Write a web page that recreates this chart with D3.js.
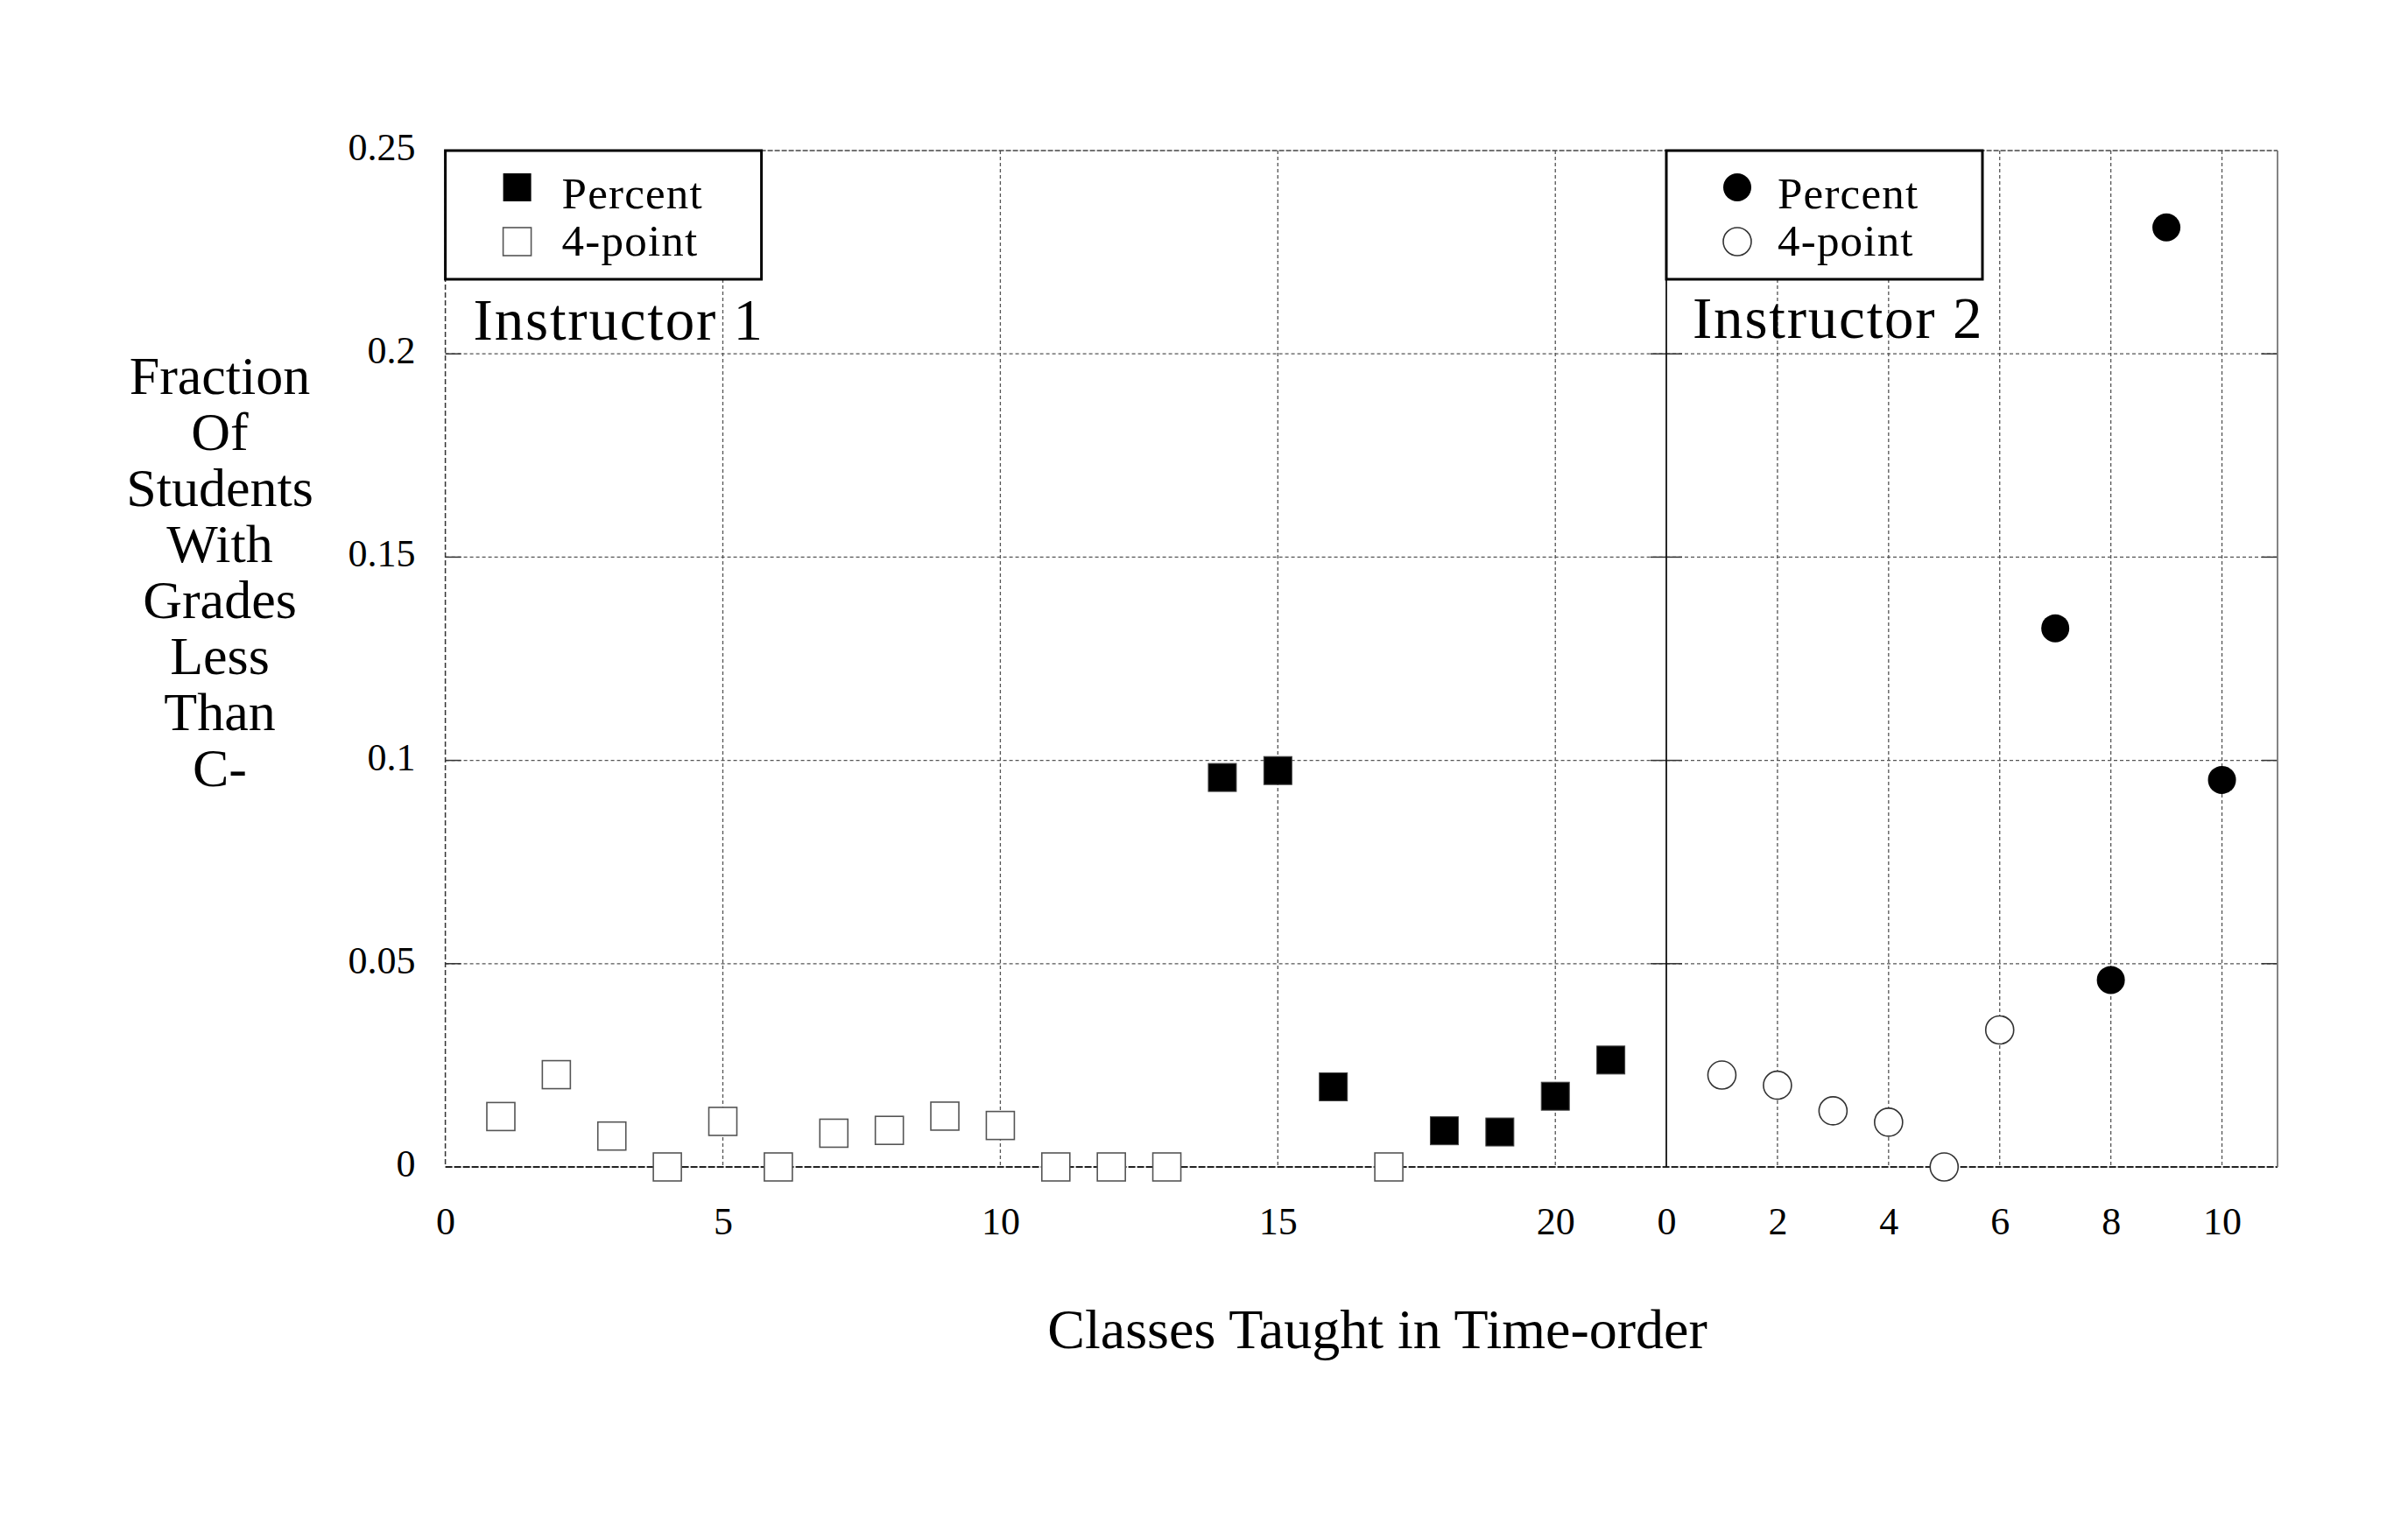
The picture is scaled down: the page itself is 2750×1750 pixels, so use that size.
<!DOCTYPE html>
<html>
<head>
<meta charset="utf-8">
<script src="https://cdn.jsdelivr.net/npm/d3@7"></script>
<style>
  body { margin: 0; background: #fff; }
  svg { font-family: "Liberation Serif", "Times New Roman", serif; }
</style>
</head>
<body>
<svg width="2750" height="1750"></svg>
<script>
// data
const inst1FourX = [1, 2, 3, 4, 5, 6, 7, 8, 9, 10, 11, 12, 13, 17];
const inst1FourY = [0.0124, 0.0227, 0.0076, 0, 0.0112, 0, 0.0083, 0.0090, 0.0125, 0.0102, 0, 0, 0, 0];
const inst1PctX = [14, 15, 16, 18, 19, 20, 21];
const inst1PctY = [0.0958, 0.0975, 0.0197, 0.0089, 0.0086, 0.0174, 0.0263];
const inst2FourX = [1, 2, 3, 4, 5, 6];
const inst2FourY = [0.0226, 0.0201, 0.0138, 0.0110, 0, 0.0337];
const inst2PctX = [7, 8, 9, 10];
const inst2PctY = [0.1325, 0.0460, 0.2311, 0.0952];

const yTicks = [0, 0.05, 0.1, 0.15, 0.2, 0.25];
const xTicksLeft = [0, 5, 10, 15, 20];
const xTicksRight = [0, 2, 4, 6, 8, 10];
const yLabelLines = ["Fraction", "Of", "Students", "With", "Grades", "Less", "Than", "C-"];
const xLabel = "Classes Taught in Time-order";
const legendLabels = ["Percent", "4-point"];

const svg = d3.select("svg");

const plotLeft = 508.6, plotMid = 1903, plotRight = 2601, plotTop = 172, plotBottom = 1333;

const y = d3.scaleLinear().domain([0, 0.25]).range([plotBottom, plotTop]);
const xLeft = d3.scaleLinear().domain([0, 22]).range([plotLeft, plotMid]);
const xRight = d3.scaleLinear().domain([0, 11]).range([plotMid, plotRight]);

const gridColor = "#555";
const innerY = yTicks.filter(d => d > 0 && d < 0.25);

// grid for one panel
const drawPanel = (x, ticks, x0, x1) => {
    const g = svg.append("g");
    g.selectAll(".hgrid").data(innerY).enter()
        .append("line")
        .attr("x1", x0).attr("x2", x1)
        .attr("y1", d => y(d)).attr("y2", d => y(d))
        .attr("stroke", gridColor).attr("stroke-width", 1.3)
        .attr("stroke-dasharray", "4,3");
    g.selectAll(".vgrid").data(ticks.filter(d => d > 0)).enter()
        .append("line")
        .attr("x1", d => x(d)).attr("x2", d => x(d))
        .attr("y1", plotTop).attr("y2", plotBottom)
        .attr("stroke", gridColor).attr("stroke-width", 1.3)
        .attr("stroke-dasharray", "4,3");
    // short solid ticks at both ends of the horizontal grid
    g.selectAll(".ltick").data(innerY).enter()
        .append("line")
        .attr("x1", x0).attr("x2", x0 + 18)
        .attr("y1", d => y(d)).attr("y2", d => y(d))
        .attr("stroke", "#333").attr("stroke-width", 1.5);
    g.selectAll(".rtick").data(innerY).enter()
        .append("line")
        .attr("x1", x1 - 18).attr("x2", x1)
        .attr("y1", d => y(d)).attr("y2", d => y(d))
        .attr("stroke", "#333").attr("stroke-width", 1.5);
    return g;
};

drawPanel(xLeft, xTicksLeft, plotLeft, plotMid);
drawPanel(xRight, xTicksRight, plotMid, plotRight);

// frame
svg.append("line").attr("x1", plotLeft).attr("x2", plotRight).attr("y1", plotTop).attr("y2", plotTop)
    .attr("stroke", "#444").attr("stroke-width", 1.5).attr("stroke-dasharray", "6,2");
svg.append("line").attr("x1", plotLeft).attr("x2", plotRight).attr("y1", plotBottom).attr("y2", plotBottom)
    .attr("stroke", "#222").attr("stroke-width", 2).attr("stroke-dasharray", "8,2");
svg.append("line").attr("x1", plotLeft).attr("x2", plotLeft).attr("y1", plotTop).attr("y2", plotBottom)
    .attr("stroke", "#333").attr("stroke-width", 1.5).attr("stroke-dasharray", "6,3");
svg.append("line").attr("x1", plotMid).attr("x2", plotMid).attr("y1", plotTop).attr("y2", plotBottom)
    .attr("stroke", "#111").attr("stroke-width", 1.8);
svg.append("line").attr("x1", plotRight).attr("x2", plotRight).attr("y1", plotTop).attr("y2", plotBottom)
    .attr("stroke", "#777").attr("stroke-width", 1.8);

// axes (labels only)
const styleAxis = g => {
    g.attr("font-family", null).attr("font-size", 44);
    g.select(".domain").remove();
    g.selectAll(".tick line").remove();
    g.selectAll("text").attr("fill", "#000");
};

svg.append("g").attr("transform", `translate(${plotLeft},0)`)
    .call(d3.axisLeft(y).tickValues(yTicks).tickFormat(d3.format("~g")).tickSize(0))
    .call(styleAxis)
    .selectAll("text").attr("x", -34).attr("dy", "0.24em");

svg.append("g").attr("transform", `translate(0,${plotBottom})`)
    .call(d3.axisBottom(xLeft).tickValues(xTicksLeft).tickSize(0))
    .call(styleAxis)
    .selectAll("text").attr("y", 77).attr("dy", null);

svg.append("g").attr("transform", `translate(0,${plotBottom})`)
    .call(d3.axisBottom(xRight).tickValues(xTicksRight).tickSize(0))
    .call(styleAxis)
    .selectAll("text").attr("y", 77).attr("dy", null);

// markers
const sq = 32, rad = 16;

svg.append("g").selectAll("rect").data(d3.zip(inst1FourX, inst1FourY)).enter()
    .append("rect")
    .attr("x", d => xLeft(d[0]) - sq / 2).attr("y", d => y(d[1]) - sq / 2)
    .attr("width", sq).attr("height", sq)
    .attr("fill", "#fff").attr("stroke", "#555").attr("stroke-width", 1.6);

svg.append("g").selectAll("rect").data(d3.zip(inst1PctX, inst1PctY)).enter()
    .append("rect")
    .attr("x", d => xLeft(d[0]) - sq / 2).attr("y", d => y(d[1]) - sq / 2)
    .attr("width", sq).attr("height", sq)
    .attr("fill", "#000").attr("stroke", "#444").attr("stroke-width", 1);

svg.append("g").selectAll("circle").data(d3.zip(inst2FourX, inst2FourY)).enter()
    .append("circle")
    .attr("cx", d => xRight(d[0])).attr("cy", d => y(d[1])).attr("r", rad)
    .attr("fill", "#fff").attr("stroke", "#333").attr("stroke-width", 1.6);

svg.append("g").selectAll("circle").data(d3.zip(inst2PctX, inst2PctY)).enter()
    .append("circle")
    .attr("cx", d => xRight(d[0])).attr("cy", d => y(d[1])).attr("r", rad)
    .attr("fill", "#000");

// legends
const legend = (x0, width, shape, textX) => {
    const g = svg.append("g").attr("transform", `translate(${x0},${plotTop})`);
    g.append("rect").attr("x", 0).attr("y", 0).attr("width", width).attr("height", 147)
        .attr("fill", "#fff").attr("stroke", "#000").attr("stroke-width", 3);
    const rows = [42, 104];
    if (shape === "square") {
        g.append("rect").attr("x", 82 - sq / 2).attr("y", rows[0] - sq / 2).attr("width", sq).attr("height", sq)
            .attr("fill", "#000");
        g.append("rect").attr("x", 82 - sq / 2).attr("y", rows[1] - sq / 2).attr("width", sq).attr("height", sq)
            .attr("fill", "#fff").attr("stroke", "#555").attr("stroke-width", 1.6);
    } else {
        g.append("circle").attr("cx", 81).attr("cy", rows[0]).attr("r", rad).attr("fill", "#000");
        g.append("circle").attr("cx", 81).attr("cy", rows[1]).attr("r", rad)
            .attr("fill", "#fff").attr("stroke", "#333").attr("stroke-width", 1.6);
    }
    g.selectAll(".lt").data(legendLabels).enter().append("text")
        .attr("x", textX).attr("y", (d, i) => [66, 120][i])
        .attr("font-size", 51).attr("letter-spacing", 1.2).text(d => d);
};

legend(plotLeft, 361, "square", 133);
legend(plotMid, 361, "circle", 127);

// panel titles
svg.append("text").attr("x", plotLeft + 32).attr("y", 388).attr("font-size", 67)
    .attr("letter-spacing", 1.8).text("Instructor 1");
svg.append("text").attr("x", plotMid + 30).attr("y", 386).attr("font-size", 67)
    .attr("letter-spacing", 1.8).text("Instructor 2");

// axis titles
svg.append("text")
    .attr("text-anchor", "middle")
    .attr("font-size", 62)
    .selectAll("tspan").data(yLabelLines).enter().append("tspan")
    .attr("x", 251).attr("y", (d, i) => 450 + i * 64)
    .text(d => d);

svg.append("text").attr("x", 1573).attr("y", 1540)
    .attr("text-anchor", "middle").attr("font-size", 64)
    .text(xLabel);
</script>
</body>
</html>
